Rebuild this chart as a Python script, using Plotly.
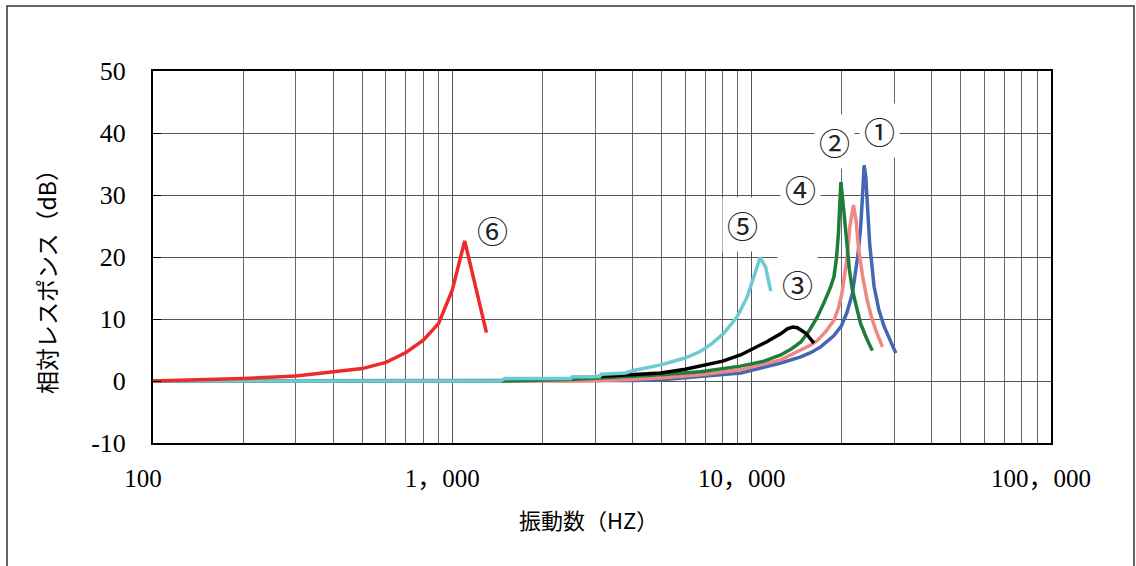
import math
import plotly.graph_objects as go

# Frequency response curves (Hz vs relative response in dB)
freq_1 = [100, 2900, 4000, 5000, 6750, 9200, 12500, 14600, 15800, 17000, 18800, 19900,
          20800, 21700, 22600, 23100, 23450, 23750, 24050, 24400, 24800, 25650, 26600,
          27700, 29000, 30300]
resp_1 = [0, 0, 0.1, 0.2, 0.7, 1.3, 2.9, 3.9, 4.6, 5.5, 7.3, 8.8,
          11.0, 14.1, 20.0, 24.5, 29.7, 34.8, 33.0, 28.0, 22.0, 15.2, 11.5,
          8.8, 6.5, 4.5]

freq_2 = [100, 2680, 3800, 4970, 6750, 9180, 12500, 14600, 15750, 16560, 17700, 18830,
          19500, 20000, 20790, 21300, 21880, 22300, 22800, 23500, 24300, 25100, 25980, 27340]
resp_2 = [0, 0, 0.2, 0.5, 1.0, 1.8, 3.4, 5.0, 5.8, 6.5, 8.0, 9.8,
          11.8, 14.0, 19.5, 25.0, 28.4, 26.0, 21.1, 16.8, 13.1, 10.4, 8.2, 5.5]

freq_3 = [3000, 3730, 4970, 6000, 6750, 8000, 9180, 10440, 11200, 11880, 12500, 13160,
          13700, 14210, 15170, 16150]
resp_3 = [0.7, 1.0, 1.3, 1.9, 2.4, 3.2, 4.2, 5.5, 6.3, 7.0, 7.6, 8.4,
          8.7, 8.6, 7.7, 6.1]

freq_4 = [100, 1500, 2580, 3800, 4970, 6750, 9180, 11000, 12500, 13600, 14600, 15600,
          16560, 17500, 18300, 18830, 19200, 19490, 19860, 20300, 20700, 21200, 21700,
          22400, 23100, 24200, 25300]
resp_4 = [0, 0, 0.3, 0.7, 1.0, 1.5, 2.4, 3.2, 4.2, 5.2, 6.3, 8.2,
          10.3, 12.8, 15.0, 16.8, 19.8, 23.8, 32.1, 27.6, 22.7, 18.0, 14.7,
          11.8, 9.3, 6.9, 4.9]

freq_5 = [100, 1445, 1500, 2480, 2520, 3100, 3150, 3790, 4030, 4500, 4970, 5230, 6000,
          6750, 7400, 8070, 8950, 9670, 10180, 10670, 11130, 11580]
resp_5 = [0, 0, 0.4, 0.4, 0.7, 0.7, 1.1, 1.3, 1.7, 2.1, 2.6, 2.9, 3.7,
          4.8, 6.1, 7.7, 10.4, 13.6, 16.8, 19.9, 18.4, 14.5]

freq_6 = [100, 200, 300, 400, 500, 600, 700, 800, 900, 1000, 1100, 1300]
resp_6 = [0, 0.4, 0.8, 1.5, 2.0, 3.0, 4.6, 6.6, 9.3, 14.7, 22.6, 7.8]

# Curve labels and where they sit
label_text = ["①", "②", "③", "④", "⑤", "⑥"]
label_freq = [26660, 18850, 14210, 14510, 9310, 1358]
label_resp = [40.4, 38.6, 15.8, 31.1, 25.2, 24.5]

x_tickvals = [100, 1000, 10000, 100000]
x_ticktext = ["100", "1，000", "10，000", "100，000"]
y_tickvals = [-10, 0, 10, 20, 30, 40, 50]
y_ticktext = ["-10", "0", "10", "20", "30", "40", "50"]

# draw order: later traces sit on top
series = [
    (freq_1, resp_1, "#4666b2"),
    (freq_2, resp_2, "#f08782"),
    (freq_4, resp_4, "#1f7d3c"),
    (freq_3, resp_3, "#000000"),
    (freq_5, resp_5, "#6ccad2"),
    (freq_6, resp_6, "#ee2a2a"),
]

fig = go.Figure()
for fx, fy, col in series:
    fig.add_trace(go.Scatter(x=fx, y=fy, mode="lines",
                             line=dict(color=col, width=3.5),
                             hoverinfo="skip", showlegend=False))

minor_vals = [m * 10 ** d for d in (2, 3, 4) for m in range(2, 10)]

serif = "Liberation Serif, Noto Sans CJK JP"
sans = "Noto Sans CJK JP"

fig.update_layout(
    width=1136, height=566,
    margin=dict(l=153, r=85, t=71, b=123),
    paper_bgcolor="white", plot_bgcolor="white",
    xaxis=dict(type="log", range=[2, 5], tickvals=x_tickvals, ticktext=x_ticktext,
               showgrid=True, gridcolor="#555555", gridwidth=1,
               minor=dict(tickvals=minor_vals, showgrid=True, gridcolor="#666666", gridwidth=1),
               showline=True, linecolor="black", linewidth=2, mirror=True,
               ticks="", tickfont=dict(family=serif, size=25, color="black"),
               ticklabelstandoff=12, ticklabelshift=-10, zeroline=False),
    yaxis=dict(range=[-10, 50], tickvals=y_tickvals, ticktext=y_ticktext,
               showgrid=True, gridcolor="#555555", gridwidth=1,
               showline=True, linecolor="black", linewidth=2, mirror=True,
               ticks="inside", ticklen=8, tickcolor="black", tickwidth=1,
               tickfont=dict(family=serif, size=26, color="black"),
               ticklabelstandoff=20, zeroline=False),
)

# annotation x on a log axis is given in log10 units
for t, fx, fy in zip(label_text, label_freq, label_resp):
    fig.add_annotation(x=math.log10(fx), y=fy, xref="x", yref="y", text=t, showarrow=False,
                       xanchor="center", yanchor="middle",
                       font=dict(family=sans, size=31, color="#222222"),
                       bgcolor="white", borderpad=4)

# axis titles
fig.add_annotation(x=(46 - 153) / 898, y=(443 - 276) / 372, xref="paper", yref="paper",
                   xanchor="center", yanchor="middle",
                   text="相対レスポンス（dB）", textangle=-90, showarrow=False,
                   font=dict(family=sans, size=23, color="black"))
fig.add_annotation(x=(588 - 153) / 898, y=(443 - 519) / 372, xref="paper", yref="paper",
                   xanchor="center", yanchor="middle",
                   text="振動数（HZ）", showarrow=False,
                   font=dict(family=sans, size=22, color="black"))

# outer frame around the chart
fig.add_shape(type="rect", xref="paper", yref="paper",
              x0=(7 - 153) / 898, x1=(1134 - 153) / 898,
              y0=(443 - 580) / 372, y1=(443 - 6) / 372,
              line=dict(color="#333333", width=1.5), layer="below")

fig.write_html("out.html")
